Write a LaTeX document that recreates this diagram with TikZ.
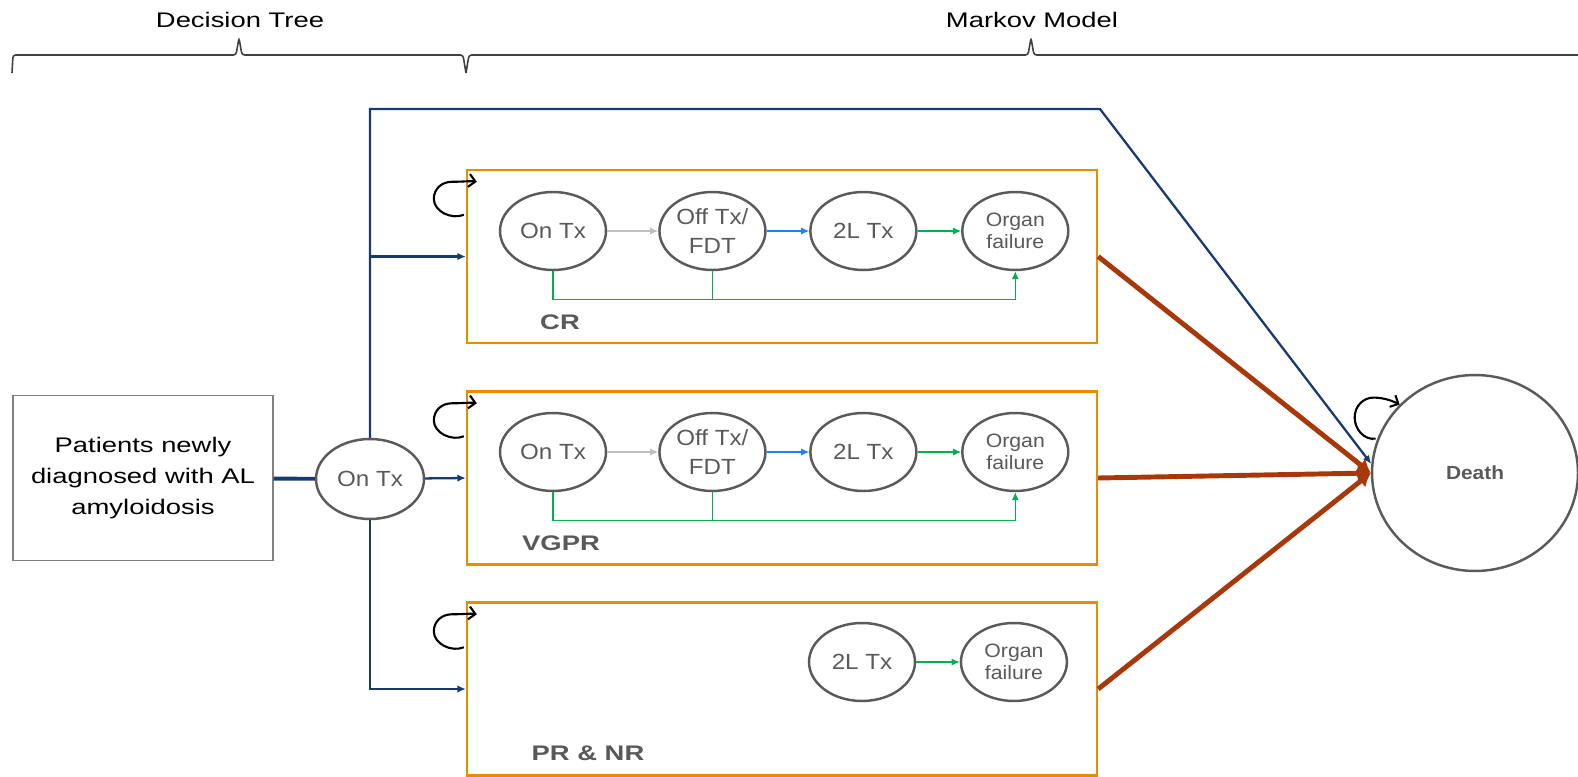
\documentclass[tikz,border=0pt]{standalone}
\usepackage{fontspec}
\setmainfont{Liberation Sans}
\newfontfamily\widefont{Liberation Sans}[FakeStretch=1.3]
\newfontfamily\statefont{Liberation Sans}[FakeStretch=1.1]
\usetikzlibrary{arrows.meta,positioning,calc,shapes.geometric}
\definecolor{treenavy}{RGB}{24,58,112}
\definecolor{boxorange}{RGB}{237,139,0}
\definecolor{deathred}{RGB}{168,56,10}
\definecolor{ringgray}{RGB}{90,90,90}
\definecolor{labelgray}{RGB}{89,89,89}
\definecolor{stepgreen}{RGB}{0,176,80}
\definecolor{stepblue}{RGB}{30,128,255}
\definecolor{steplight}{RGB}{191,191,191}
\tikzset{
  statebox/.style={draw=boxorange,line width=1.4pt,minimum width=12.6cm,minimum height=3.46cm,inner sep=0pt},
  stateellipse/.style={ellipse,draw=ringgray,line width=1.4pt,minimum width=2.12cm,minimum height=1.56cm,
    inner sep=0pt,align=center,text=labelgray,font=\statefont\fontsize{12.5}{16}\selectfont},
  organfont/.style={font=\statefont\fontsize{11}{12.5}\selectfont},
  startbox/.style={draw=black!50,line width=0.6pt,minimum width=5.2cm,minimum height=3.3cm,align=center,
    font=\widefont\fontsize{12}{17.6}\selectfont},
  statelabel/.style={text=labelgray,font=\widefont\bfseries\fontsize{12}{14}\selectfont},
  bracelabel/.style={font=\widefont\fontsize{12}{14}\selectfont},
  bracepath/.style={draw=black!75,line width=0.9pt,rounded corners=1.5pt},
  treearrow/.style={draw=treenavy,line width=1.3pt,-{Latex[length=1.7mm,width=1.5mm]}},
  deatharrow/.style={draw=deathred,line width=2.8pt,-{Latex[length=2.6mm,width=3.2mm]}},
  lightarrow/.style={draw=steplight,line width=0.6pt,-{Latex[length=1.6mm,width=1.4mm]}},
  bluearrow/.style={draw=stepblue,line width=0.6pt,-{Latex[length=1.6mm,width=1.4mm]}},
  greenarrow/.style={draw=stepgreen,line width=0.6pt,-{Latex[length=1.6mm,width=1.4mm]}},
  selfloop/.style={draw=black,line width=1.2pt,-{Straight Barb[length=1.3mm,width=2.6mm]}},
  % stay-in-state loops, drawn at a box corner or on the death ellipse
  pics/boxloop/.style={code={
    \draw[selfloop] (-2,46) .. controls (-14,51) and (-32,43) .. (-32,30)
      .. controls (-32,20) and (-24,13) .. (-14,13) .. controls (-3,13) and (5,12) .. (11,13);}},
  pics/deathloop/.style={code={
    \draw[selfloop] (-2,1) .. controls (-13,3) and (-23,-8) .. (-23,-20)
      .. controls (-23,-31) and (-15,-40) .. (-4,-40) .. controls (7,-40) and (16,-36) .. (22,-33);}}
}
\begin{document}
\begin{tikzpicture}[x=0.02cm,y=-0.02cm]
  \useasboundingbox (0,0) rectangle (1578,777);
  \node[bracelabel] (dtlabel) at (240,20) {Decision Tree};
  \node[bracelabel] (mmlabel) at (1032,20) {Markov Model};
  \draw[bracepath] (12,73) -- (13,55) -- (236,55) -- (239,38) -- (242,55) -- (463,55) -- (466,73);
  \draw[bracepath] (466,73) -- (469,55) -- (1028,55) -- (1031,38) -- (1034,55) -- (1578,55);

  \node[startbox] (patients) at (143,478) {Patients newly\\diagnosed with AL\\amyloidosis};
  \node[stateellipse,minimum width=2.16cm,minimum height=1.6cm] (ontx) at (370,479) {On Tx};

  \node[statebox] (cr) at (782,256.5) {};
  \node[statebox] (vgpr) at (782,478) {};
  \node[statebox] (pr) at (782,689) {};
  \node[stateellipse,minimum width=4.12cm,minimum height=3.92cm,
    font=\statefont\bfseries\fontsize{10.8}{13}\selectfont] (death) at (1475,473) {Death};
  \coordinate (bend) at (1100,109);

  \node[stateellipse] (cr-on) at (553,231) {On Tx};
  \node[stateellipse,right=1.02cm of cr-on] (cr-off) {Off Tx/\\FDT};
  \node[stateellipse,right=0.85cm of cr-off] (cr-second) {2L Tx};
  \node[stateellipse,organfont,right=0.87cm of cr-second] (cr-organ) {Organ\\failure};
  \node[statelabel] (crlabel) at (560,322) {CR};

  \node[stateellipse] (vgpr-on) at (553,452) {On Tx};
  \node[stateellipse,right=1.02cm of vgpr-on] (vgpr-off) {Off Tx/\\FDT};
  \node[stateellipse,right=0.85cm of vgpr-off] (vgpr-second) {2L Tx};
  \node[stateellipse,organfont,right=0.87cm of vgpr-second] (vgpr-organ) {Organ\\failure};
  \node[statelabel] (vgprlabel) at (561,543) {VGPR};

  \node[stateellipse] (pr-second) at (862,662) {2L Tx};
  \node[stateellipse,organfont,right=0.87cm of pr-second] (pr-organ) {Organ\\failure};
  \node[statelabel] (prlabel) at (588,753) {PR \& NR};

  \draw[treearrow,-,line width=2.2pt] (patients) -- (ontx);
  \draw[treearrow] (ontx.north) |- (bend) -- (death.175);
  \draw[treearrow] (ontx.north |- cr.west) -- (cr.west);
  \draw[treearrow] (ontx) -- (vgpr.west);
  \draw[treearrow] (ontx.south) |- (pr.west);

  \draw[lightarrow] (cr-on) -- (cr-off);
  \draw[bluearrow] (cr-off) -- (cr-second);
  \draw[greenarrow] (cr-second) -- (cr-organ);
  \draw[greenarrow] (cr-on.south) -- ++(0,28) -| (cr-organ.south);
  \draw[greenarrow,-] (cr-off.south) -- ++(0,28);

  \draw[lightarrow] (vgpr-on) -- (vgpr-off);
  \draw[bluearrow] (vgpr-off) -- (vgpr-second);
  \draw[greenarrow] (vgpr-second) -- (vgpr-organ);
  \draw[greenarrow] (vgpr-on.south) -- ++(0,28) -| (vgpr-organ.south);
  \draw[greenarrow,-] (vgpr-off.south) -- ++(0,28);

  \draw[greenarrow] (pr-second) -- (pr-organ);

  \draw[deatharrow] (cr.east) -- (death.west);
  \draw[deatharrow] (vgpr.east) -- (death.west);
  \draw[deatharrow] (pr.east) -- (death.west);

  \pic at (cr.north west) {boxloop};
  \pic at (vgpr.north west) {boxloop};
  \pic at (pr.north west) {boxloop};
  \pic at (death.160) {deathloop};
\end{tikzpicture}
\end{document}
